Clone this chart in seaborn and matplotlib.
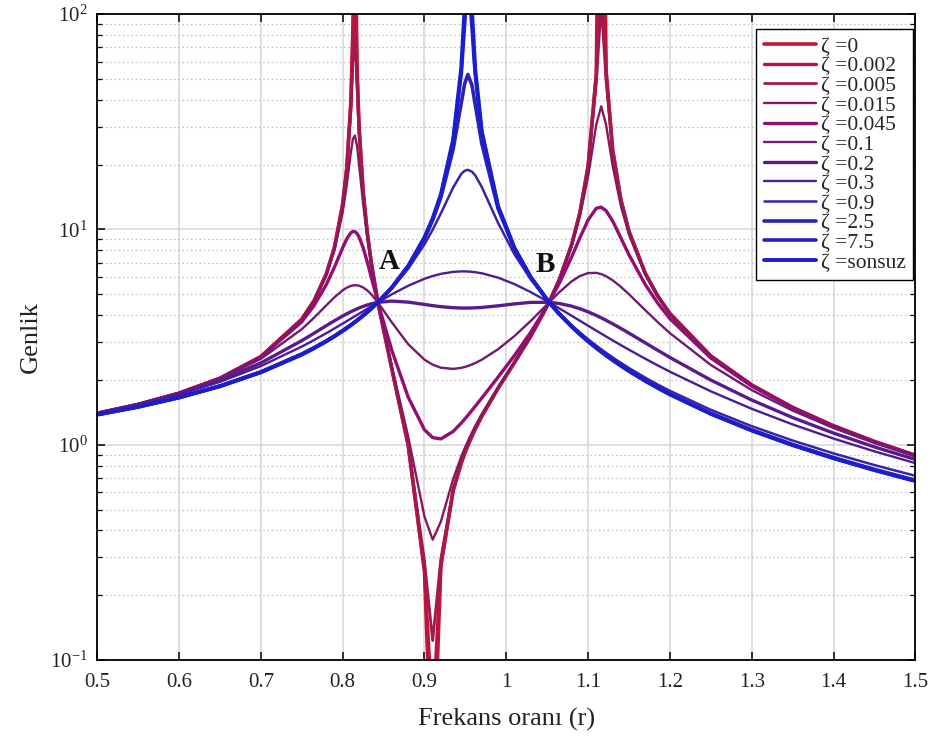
import matplotlib
matplotlib.use("Agg")
import matplotlib.pyplot as plt
import seaborn as sns
from matplotlib.ticker import LogLocator, FixedLocator, NullFormatter, LogFormatterSciNotation

# ---------------- data ----------------
r = [0.5, 0.55, 0.6, 0.65, 0.7, 0.75, 0.765, 0.78, 0.79, 0.8,
     0.805, 0.81, 0.8125, 0.815, 0.8175, 0.82, 0.825, 0.83, 0.835, 0.843,
     0.86, 0.88, 0.9, 0.91, 0.92, 0.935, 0.945, 0.949, 0.953, 0.958,
     0.962, 0.97, 0.99, 1.01, 1.03, 1.052, 1.065, 1.08, 1.09, 1.1,
     1.11, 1.116, 1.122, 1.13, 1.14, 1.15, 1.17, 1.185, 1.2, 1.25,
     1.3, 1.35, 1.4, 1.45, 1.5]

genlik_z0 = [1.400, 1.539, 1.735, 2.036, 2.566, 3.826, 4.667, 6.21, 8.265, 13.10,
             19.30, 39.1, 85.1, 382, 56.9, 30.2, 15.07, 9.73, 6.986, 4.59,
             2.255, 0.996, 0.258, 0.024, 0.273, 0.611, 0.823, 0.907, 0.990, 1.095,
             1.180, 1.354, 1.828, 2.408, 3.194, 4.553, 5.871, 8.535, 11.99, 19.72,
             52.9, 5000, 54.7, 23.46, 13.77, 9.79, 6.237, 4.917, 4.065, 2.584,
             1.893, 1.4897, 1.224, 1.0348, 0.893]
genlik_z002 = [1.400, 1.539, 1.735, 2.036, 2.566, 3.826, 4.667, 6.209, 8.260, 13.08,
               19.23, 38.4, 78.6, 179.4, 54.8, 29.8, 15.02, 9.71, 6.983, 4.59,
               2.256, 0.998, 0.263, 0.0538, 0.277, 0.612, 0.824, 0.908, 0.991, 1.096,
               1.181, 1.355, 1.829, 2.409, 3.194, 4.553, 5.870, 8.53, 11.98, 19.67,
               51.96, 278.6, 53.6, 23.37, 13.76, 9.78, 6.235, 4.917, 4.064, 2.583,
               1.893, 1.4897, 1.224, 1.0348, 0.893]
genlik_z005 = [1.400, 1.539, 1.735, 2.036, 2.566, 3.824, 4.664, 6.200, 8.235, 12.96,
               18.84, 35.4, 59.2, 79.6, 46.5, 28.2, 14.81, 9.66, 6.966, 4.59,
               2.263, 1.007, 0.288, 0.123, 0.296, 0.620, 0.830, 0.913, 0.996, 1.101,
               1.185, 1.358, 1.831, 2.411, 3.196, 4.553, 5.867, 8.518, 11.93, 19.44,
               47.9, 111.6, 49.0, 22.93, 13.66, 9.75, 6.226, 4.912, 4.061, 2.583,
               1.893, 1.4895, 1.224, 1.0347, 0.893]
genlik_z015 = [1.400, 1.539, 1.735, 2.036, 2.565, 3.813, 4.637, 6.118, 8.012, 12.01,
               16.07, 22.79, 26.32, 27.28, 24.47, 20.10, 13.16, 9.19, 6.819, 4.59,
               2.321, 1.094, 0.463, 0.362, 0.439, 0.692, 0.882, 0.960, 1.039, 1.139,
               1.221, 1.390, 1.855, 2.430, 3.210, 4.553, 5.842, 8.386, 11.52, 17.61,
               30.78, 37.31, 30.56, 19.72, 12.87, 9.44, 6.143, 4.871, 4.038, 2.577,
               1.890, 1.4884, 1.223, 1.0344, 0.893]
genlik_z045 = [1.400, 1.539, 1.735, 2.033, 2.552, 3.720, 4.427, 5.546, 6.684, 8.22,
               9.034, 9.645, 9.782, 9.763, 9.575, 9.233, 8.227, 7.071, 5.989, 4.588,
               2.747, 1.666, 1.173, 1.079, 1.064, 1.152, 1.261, 1.313, 1.368, 1.444,
               1.508, 1.647, 2.061, 2.598, 3.334, 4.557, 5.642, 7.469, 9.145, 11.07,
               12.53, 12.69, 12.21, 10.94, 9.138, 7.612, 5.534, 4.548, 3.848, 2.526,
               1.870, 1.4786, 1.218, 1.0311, 0.891]
genlik_z1 = [1.400, 1.5375, 1.731, 2.021, 2.505, 3.439, 3.889, 4.439, 4.841, 5.215,
             5.3625, 5.464, 5.492, 5.504, 5.499, 5.476, 5.375, 5.210, 4.994, 4.584,
             3.703, 2.932, 2.482, 2.354, 2.279, 2.249, 2.275, 2.295, 2.321, 2.359,
             2.395, 2.481, 2.777, 3.197, 3.761, 4.568, 5.118, 5.742, 6.074, 6.269,
             6.283, 6.201, 6.061, 5.803, 5.413, 4.996, 4.211, 3.713, 3.297, 2.346,
             1.793, 1.4395, 1.195, 1.0174, 0.882]
genlik_z2 = [1.398, 1.534, 1.720, 1.989, 2.398, 3.042, 3.294, 3.572, 3.765, 3.961,
             4.054, 4.145, 4.189, 4.232, 4.274, 4.314, 4.388, 4.455, 4.512, 4.582,
             4.645, 4.595, 4.482, 4.425, 4.377, 4.328, 4.313, 4.312, 4.313, 4.317,
             4.323, 4.341, 4.416, 4.509, 4.582, 4.584, 4.526, 4.399, 4.281, 4.141,
             3.985, 3.885, 3.782, 3.643, 3.469, 3.297, 2.970, 2.746, 2.542, 1.996,
             1.612, 1.3365, 1.132, 0.9764, 0.854]
genlik_z3 = [1.396, 1.529, 1.708, 1.958, 2.319, 2.855, 3.0625, 3.296, 3.468, 3.652,
             3.749, 3.849, 3.900, 3.952, 4.005, 4.058, 4.1675, 4.280, 4.394, 4.582,
             4.992, 5.471, 5.898, 6.074, 6.216, 6.350, 6.382, 6.382, 6.373, 6.352,
             6.327, 6.256, 5.970, 5.570, 5.111, 4.591, 4.2935, 3.968, 3.763, 3.569,
             3.386, 3.281, 3.181, 3.052, 2.901, 2.760, 2.506, 2.336, 2.183, 1.770,
             1.468, 1.2421, 1.068, 0.9313, 0.821]
genlik_z9 = [1.386, 1.509, 1.670, 1.887, 2.194, 2.654, 2.840, 3.057, 3.223, 3.410,
             3.513, 3.623, 3.680, 3.740, 3.802, 3.866, 4.001, 4.146, 4.303, 4.581,
             5.317, 6.560, 8.526, 9.967, 11.86, 15.65, 18.12, 18.71, 18.91, 18.54,
             17.82, 15.74, 10.71, 7.660, 5.850, 4.599, 4.071, 3.587, 3.320, 3.087,
             2.884, 2.773, 2.670, 2.543, 2.400, 2.270, 2.047, 1.904, 1.779, 1.452,
             1.219, 1.0454, 0.911, 0.8042, 0.717]
genlik_z25 = [1.3805, 1.500, 1.658, 1.871, 2.173, 2.627, 2.811, 3.028, 3.194, 3.383,
              3.486, 3.597, 3.656, 3.716, 3.779, 3.844, 3.982, 4.131, 4.292, 4.581,
              5.358, 6.724, 9.082, 11.04, 14.06, 23.51, 38.72, 47.31, 52.41, 46.77,
              38.04, 25.07, 12.46, 8.114, 5.970, 4.600, 4.042, 3.540, 3.266, 3.030,
              2.824, 2.712, 2.608, 2.481, 2.337, 2.208, 1.986, 1.845, 1.721, 1.400,
              1.172, 1.0024, 0.872, 0.7681, 0.684]
genlik_z75 = [1.3795, 1.499, 1.656, 1.869, 2.170, 2.623, 2.8075, 3.024, 3.190, 3.379,
              3.4827, 3.594, 3.652, 3.713, 3.776, 3.841, 3.9795, 4.129, 4.291, 4.581,
              5.363, 6.747, 9.164, 11.20, 14.45, 25.75, 53.32, 88.67, 155.6, 87.13,
              52.38, 28.12, 12.76, 8.181, 5.986, 4.600, 4.0385, 3.534, 3.259, 3.022,
              2.815, 2.704, 2.600, 2.473, 2.329, 2.200, 1.979, 1.837, 1.714, 1.393,
              1.165, 0.9958, 0.866, 0.7627, 0.679]
genlik_zinf = [1.3793, 1.4987, 1.6556, 1.8683, 2.1692, 2.623, 2.807, 3.0234, 3.190, 3.3784,
               3.482, 3.5934, 3.6519, 3.7126, 3.7755, 3.8408, 3.979, 4.1287, 4.291, 4.5811,
               5.3637, 6.7495, 9.1743, 11.225, 14.501, 26.073, 56.58, 107.1, 1031, 104.8,
               55.59, 28.58, 12.80, 8.189, 5.988, 4.600, 4.038, 3.533, 3.258, 3.021,
               2.814, 2.703, 2.599, 2.472, 2.328, 2.199, 1.977, 1.836, 1.712, 1.391,
               1.164, 0.9953, 0.865, 0.7618, 0.678]

zeta_labels = ["0", "0.002", "0.005", "0.015", "0.045", "0.1", "0.2", "0.3", "0.9", "2.5", "7.5", "sonsuz"]
series = [genlik_z0, genlik_z002, genlik_z005, genlik_z015, genlik_z045, genlik_z1,
          genlik_z2, genlik_z3, genlik_z9, genlik_z25, genlik_z75, genlik_zinf]

x_ticks = [0.5, 0.6, 0.7, 0.8, 0.9, 1.0, 1.1, 1.2, 1.3, 1.4, 1.5]
x_tick_labels = ["0.5", "0.6", "0.7", "0.8", "0.9", "1", "1.1", "1.2", "1.3", "1.4", "1.5"]

# ---------------- style ----------------
colors = ["#C8142E", "#BA1440", "#A01A50", "#86185E", "#920E72", "#701A70",
          "#5A1A8C", "#4A1C98", "#3C22A4", "#2E22B2", "#2622C0", "#1A1ED0"]
widths = [2.6, 2.4, 2.0, 1.7, 2.4, 1.7, 2.4, 1.7, 1.8, 2.6, 2.6, 2.8]

sns.set_theme(style="white")
plt.rcParams["font.family"] = ["Liberation Serif", "DejaVu Serif"]
plt.rcParams["mathtext.fontset"] = "stix"

fig = plt.figure(figsize=(9.35, 7.42), dpi=100)
ax = fig.add_axes([0.104, 0.1105, 0.875, 0.8705])
ax.set_yscale("log")

for vals, lab, col, lw in zip(series, zeta_labels, colors, widths):
    assert len(vals) == len(r)
    sns.lineplot(x=r, y=vals, ax=ax, color=col, linewidth=lw, label="\u03b6 =" + lab,
                 estimator=None, sort=False)

ax.set_xlim(0.5, 1.5)
ax.set_ylim(0.1, 100)

ax.xaxis.set_major_locator(FixedLocator(x_ticks))
ax.set_xticklabels(x_tick_labels)
ax.yaxis.set_major_locator(LogLocator(base=10, numticks=10))
ax.yaxis.set_minor_locator(LogLocator(base=10, subs=range(2, 10), numticks=20))
ax.yaxis.set_minor_formatter(NullFormatter())
ax.yaxis.set_major_formatter(LogFormatterSciNotation())

ax.grid(which="major", axis="both", color="#d6d6d6", linewidth=1.1, linestyle="-")
ax.grid(which="minor", axis="y", color="#bdbdbd", linewidth=0.9, linestyle=(0, (1.2, 2.2)))
ax.set_axisbelow(True)

for sp in ax.spines.values():
    sp.set_color("black")
    sp.set_linewidth(1.3)

ax.tick_params(which="both", direction="in", top=True, right=True, bottom=True, left=True,
               colors="black", labelcolor="#222222")
ax.tick_params(which="major", length=6, width=1.1, labelsize=15)
ax.tick_params(axis="x", which="major", pad=9)
ax.tick_params(axis="y", which="major", pad=7)
ax.tick_params(which="minor", length=3.5, width=0.9)

ax.set_xlabel("Frekans oranı (r)", fontsize=19, labelpad=12, color="#222222")
ax.set_ylabel("Genlik", fontsize=19, labelpad=6, color="#222222")

ax.text(0.857, 7.1, "A", fontsize=21, fontweight="bold", ha="center", va="center", color="#111111")
ax.text(1.048, 6.9, "B", fontsize=21, fontweight="bold", ha="center", va="center", color="#111111")

leg = ax.legend(loc="upper right", bbox_to_anchor=(0.9975, 0.977), fontsize=15.5, frameon=True,
                fancybox=False, edgecolor="black", framealpha=1, handlelength=2.4,
                handletextpad=0.25, labelspacing=-0.02, borderpad=0.35, borderaxespad=0)
leg.get_frame().set_linewidth(1.0)

fig.savefig("out.png", dpi=100, facecolor="white")
